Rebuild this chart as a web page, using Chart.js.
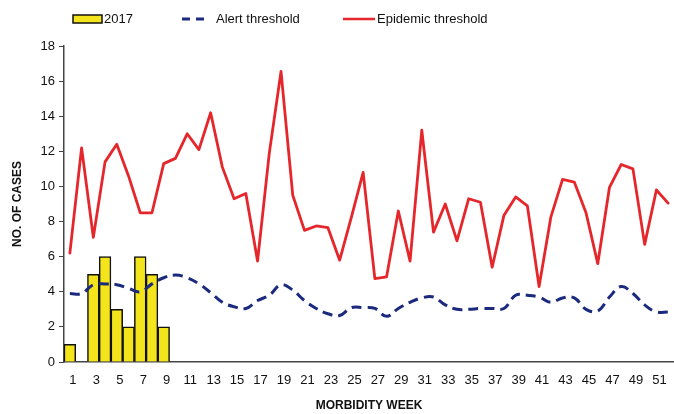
<!DOCTYPE html>
<html>
<head>
<meta charset="utf-8">
<script src="https://cdn.jsdelivr.net/npm/chart.js@4/dist/chart.umd.min.js"></script>
<style>
  html, body { margin: 0; padding: 0; background: #fff; overflow: hidden; }
</style>
</head>
<body>
<canvas id="chart" width="674" height="414"></canvas>
<script>
const weeks = [
  "1", "2", "3", "4", "5", "6", "7", "8", "9", "10", "11", "12", "13",
  "14", "15", "16", "17", "18", "19", "20", "21", "22", "23", "24", "25", "26",
  "27", "28", "29", "30", "31", "32", "33", "34", "35", "36", "37", "38", "39",
  "40", "41", "42", "43", "44", "45", "46", "47", "48", "49", "50", "51", "52",
];

const cases2017 = [1, 0, 5, 6, 3, 2, 6, 5, 2];

const alertThreshold = [
  3.9, 3.9, 4.4, 4.45, 4.4, 4.2, 4.0, 4.45, 4.8, 4.95, 4.8, 4.45, 3.95,
  3.4, 3.15, 3.05, 3.5, 3.8, 4.4, 4.1, 3.5, 3.05, 2.75, 2.65, 3.1, 3.1,
  3.05, 2.6, 3.05, 3.4, 3.65, 3.7, 3.25, 3.0, 3.0, 3.05, 3.05, 3.05, 3.8,
  3.8, 3.7, 3.4, 3.65, 3.65, 3.0, 2.9, 3.7, 4.3, 3.9, 3.25, 2.85, 2.85,
];

const epidemicThreshold = [
  6.2, 12.2, 7.1, 11.4, 12.4, 10.6, 8.5, 8.5, 11.3, 11.6, 13.0, 12.1, 14.2,
  11.1, 9.3, 9.6, 5.75, 11.9, 16.55, 9.5, 7.5, 7.75, 7.65, 5.8, 8.25, 10.8,
  4.75, 4.85, 8.6, 5.75, 13.2, 7.4, 9.0, 6.9, 9.3, 9.1, 5.4, 8.35, 9.4,
  8.9, 4.3, 8.25, 10.4, 10.25, 8.5, 5.6, 9.95, 11.25, 11.0, 6.7, 9.8, 9.05,
];

const yTicks = [0, 2, 4, 6, 8, 10, 12, 14, 16, 18];

const BAR_YELLOW = "#f4e41c";
const ALERT_BLUE = "#1c2a7e";
const EPIDEMIC_RED = "#e5262b";
const AXIS_COLOR = "#444";
const TEXT_COLOR = "#111";
const FONT = "'Liberation Sans', Arial, sans-serif";

// legend drawn by hand so the spacing matches the original layout
const manualLegend = {
  id: "manualLegend",
  afterDraw(chart) {
    const ctx = chart.ctx;
    const y = 19;
    ctx.save();
    ctx.font = "13px " + FONT;
    ctx.textBaseline = "middle";

    ctx.fillStyle = BAR_YELLOW;
    ctx.fillRect(73, 15, 29, 8);
    ctx.strokeStyle = "#111";
    ctx.lineWidth = 1.5;
    ctx.strokeRect(73, 15, 29, 8);
    ctx.fillStyle = TEXT_COLOR;
    ctx.fillText("2017", 104, y);

    ctx.strokeStyle = ALERT_BLUE;
    ctx.lineWidth = 3;
    ctx.beginPath();
    ctx.moveTo(182, y);
    ctx.lineTo(190, y);
    ctx.moveTo(196, y);
    ctx.lineTo(204, y);
    ctx.stroke();
    ctx.fillText("Alert threshold", 216, y);

    ctx.strokeStyle = EPIDEMIC_RED;
    ctx.lineWidth = 2.5;
    ctx.beginPath();
    ctx.moveTo(343, y);
    ctx.lineTo(375, y);
    ctx.stroke();
    ctx.fillText("Epidemic threshold", 377, y);
    ctx.restore();
  },
};

new Chart(document.getElementById("chart"), {
  type: "bar",
  data: {
    labels: weeks,
    datasets: [
      {
        type: "line",
        label: "Epidemic threshold",
        data: epidemicThreshold,
        borderColor: EPIDEMIC_RED,
        borderWidth: 2.8,
        borderJoinStyle: "round",
        borderCapStyle: "round",
        pointRadius: 0,
        tension: 0,
        order: 1,
      },
      {
        type: "line",
        label: "Alert threshold",
        data: alertThreshold,
        borderColor: ALERT_BLUE,
        borderWidth: 3,
        borderDash: [10, 6],
        pointRadius: 0,
        tension: 0.4,
        order: 2,
      },
      {
        label: "2017",
        data: cases2017,
        backgroundColor: BAR_YELLOW,
        borderColor: "#111",
        borderWidth: 1.5,
        barPercentage: 1,
        categoryPercentage: 1,
        order: 3,
      },
    ],
  },
  options: {
    responsive: false,
    animation: false,
    devicePixelRatio: 1,
    layout: { padding: { top: 46, right: 0, bottom: 0, left: 0 } },
    plugins: {
      legend: { display: false },
      tooltip: { enabled: false },
    },
    scales: {
      x: {
        grid: { display: false },
        border: { display: true, color: AXIS_COLOR, width: 1.5 },
        ticks: {
          autoSkip: false,
          maxRotation: 0,
          padding: 3,
          labelOffset: 3,
          color: TEXT_COLOR,
          font: { family: FONT, size: 13 },
          callback: (value, index) => (index % 2 === 0 ? weeks[index] : ""),
        },
        title: {
          display: true,
          text: "MORBIDITY WEEK",
          color: TEXT_COLOR,
          font: { family: FONT, size: 12, weight: "bold" },
          padding: { top: 4, bottom: 1 },
        },
        afterFit: (scale) => {
          scale.height = 52;
        },
      },
      y: {
        min: 0,
        max: 18,
        afterBuildTicks: (scale) => {
          scale.ticks = yTicks.map((v) => ({ value: v }));
        },
        grid: {
          drawOnChartArea: false,
          drawTicks: true,
          tickLength: 5,
          color: AXIS_COLOR,
        },
        border: { display: true, color: AXIS_COLOR, width: 1.5 },
        ticks: {
          padding: 4,
          color: TEXT_COLOR,
          font: { family: FONT, size: 13 },
        },
        title: {
          display: true,
          text: "NO. OF CASES",
          color: TEXT_COLOR,
          font: { family: FONT, size: 12, weight: "bold" },
          padding: { top: 10, bottom: 4 },
        },
        afterFit: (scale) => {
          scale.width = 64;
        },
      },
    },
  },
  plugins: [manualLegend],
});
</script>
</body>
</html>
